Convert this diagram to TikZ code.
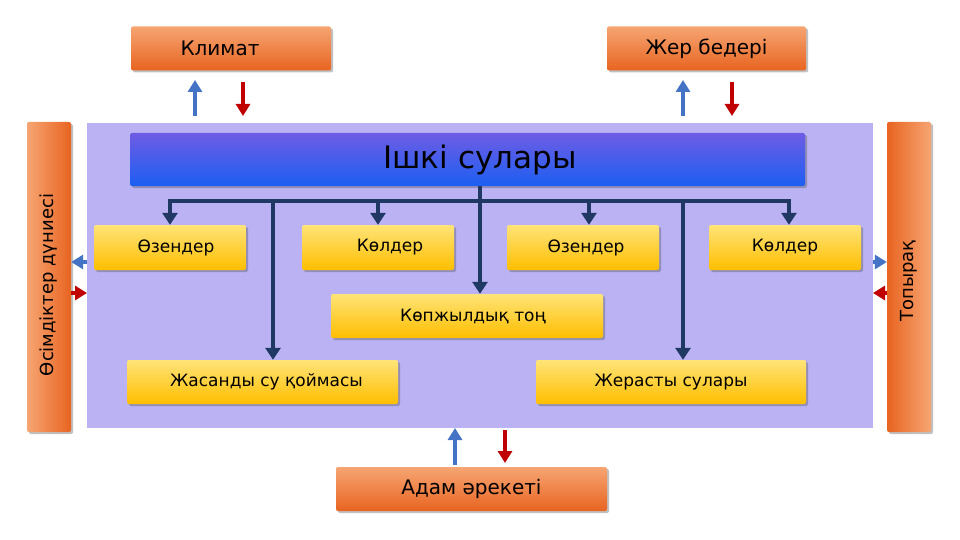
\documentclass[tikz,border=0pt]{standalone}
\usepackage{fontspec}
\setmainfont{DejaVu Sans}
\usetikzlibrary{arrows.meta,shadows}
\definecolor{panel}{RGB}{186,178,243}
\definecolor{yelA}{RGB}{255,228,120}
\definecolor{yelB}{RGB}{255,190,0}
\definecolor{orA}{RGB}{246,165,115}
\definecolor{orB}{RGB}{232,100,32}
\definecolor{hdrA}{RGB}{110,92,228}
\definecolor{hdrB}{RGB}{28,95,242}
\definecolor{navy}{RGB}{31,56,100}
\definecolor{upblue}{RGB}{68,114,196}
\definecolor{dnred}{RGB}{192,0,0}
\tikzset{
  shad/.style={drop shadow={shadow xshift=2pt,shadow yshift=-2pt,opacity=0.35,fill=black!70}},
  ybox/.style={rectangle,rounded corners=2pt,top color=yelA,bottom color=yelB,draw=none,
    minimum height=45pt,inner sep=0pt,font=\fontsize{17}{19}\selectfont,shad},
  obox/.style={rectangle,rounded corners=2pt,top color=orA,bottom color=orB,draw=none,
    minimum height=44pt,inner sep=0pt,font=\fontsize{20}{22}\selectfont,shad},
  vtext/.style={rotate=90,font=\fontsize{18}{20}\selectfont},
  conn/.style={draw=navy,line width=4.5pt,-{Triangle[width=15pt,length=12pt]}},
  bus/.style={draw=navy,line width=4.5pt,line cap=rect},
  uparr/.style={draw=upblue,line width=4pt,-{Triangle[width=14pt,length=12pt]}},
  dnarr/.style={draw=dnred,line width=4pt,-{Triangle[width=14pt,length=12pt]}},
}
\begin{document}
\begin{tikzpicture}[x=1pt,y=-1pt]
\useasboundingbox (0,0) rectangle (960,540);
\fill[white] (0,0) rectangle (960,540);
% panel
\fill[panel] (87,123) rectangle (873,428);
% header
\node[rectangle,rounded corners=2pt,top color=hdrA,bottom color=hdrB,minimum width=675pt,minimum height=53pt,inner sep=0pt,shad,font=\fontsize{31}{34}\selectfont] (hdr) at (467.5,159.5) {\hspace*{25pt}Ішкі сулары};
% top boxes
\node[obox,minimum width=200pt] (klim) at (231,48.5) {Климат\hspace*{22pt}};
\node[obox,minimum width=199pt] (jer) at (706.5,48.5) {Жер бедері};
\node[obox,minimum width=271pt] (adam) at (471.5,489) {Адам әрекеті};
% side bars
\node[rectangle,rounded corners=2pt,left color=orA,right color=orB,minimum width=44pt,minimum height=310pt,inner sep=0pt,shad] (osim) at (49,277) {};
\node[vtext] at ([yshift=-8pt]osim.center) {Өсімдіктер дүниесі};
\node[rectangle,rounded corners=2pt,left color=orB,right color=orA,minimum width=44pt,minimum height=310pt,inner sep=0pt,shad] (topy) at (909,277) {};
\node[vtext] at ([yshift=-4pt]topy.center) {Топырақ};
% yellow boxes
\node[ybox,minimum width=152pt] (oz1) at (170,247.5) {\hspace*{12pt}Өзендер};
\node[ybox,minimum width=152pt] (kol1) at (378,247.5) {\hspace*{24pt}Көлдер};
\node[ybox,minimum width=152pt] (oz2) at (583,247.5) {\hspace*{6pt}Өзендер};
\node[ybox,minimum width=152pt] (kol2) at (785,247.5) {Көлдер};
\node[ybox,minimum width=272pt,minimum height=44pt] (kop) at (467,316) {\hspace*{12pt}Көпжылдық тоң};
\node[ybox,minimum width=271pt,minimum height=44pt] (jas) at (262.5,382) {\hspace*{8pt}Жасанды су қоймасы};
\node[ybox,minimum width=270pt,minimum height=44pt] (jerast) at (671,382) {Жерасты сулары};
% connectors
\coordinate (b1) at (170,201);
\coordinate (b2) at (273,201);
\coordinate (b3) at (378,201);
\coordinate (b4) at (589,201);
\coordinate (b5) at (683,201);
\coordinate (b6) at (789,201);
\path[bus] (b1) -- (b6);
\path[conn] (b1) -- (oz1.north);
\path[conn] (b3) -- (kol1.north);
\path[conn] (b4) -- (oz2.north -| b4);
\path[conn] (b6) -- (kol2.north -| b6);
\path[conn] (b2) -- (jas.north -| b2);
\path[conn] (b5) -- (jerast.north -| b5);
\path[conn] (hdr.south -| 480,0) -- (kop.north -| 480,0);
% exchange arrows
\coordinate (k1) at (195,116); \coordinate (k1e) at (195,80);
\coordinate (k2) at (243,82); \coordinate (k2e) at (243,116);
\path[uparr] (k1) -- (k1e);
\path[dnarr] (k2) -- (k2e);
\coordinate (j1) at (683,116); \coordinate (j1e) at (683,80);
\coordinate (j2) at (732,82); \coordinate (j2e) at (732,116);
\path[uparr] (j1) -- (j1e);
\path[dnarr] (j2) -- (j2e);
\coordinate (a1) at (455,465); \coordinate (a1e) at (455,428);
\coordinate (a2) at (505,430); \coordinate (a2e) at (505,463);
\path[uparr] (a1) -- (a1e);
\path[dnarr] (a2) -- (a2e);
\coordinate (l1) at (87,262); \coordinate (l2) at (87,293);
\path[uparr] (l1) -- (osim.east |- l1);
\path[dnarr] (osim.east |- l2) -- (l2);
\coordinate (r1) at (873,262); \coordinate (r2) at (873,293);
\path[uparr] (r1) -- (topy.west |- r1);
\path[dnarr] (topy.west |- r2) -- (r2);
\end{tikzpicture}
\end{document}
